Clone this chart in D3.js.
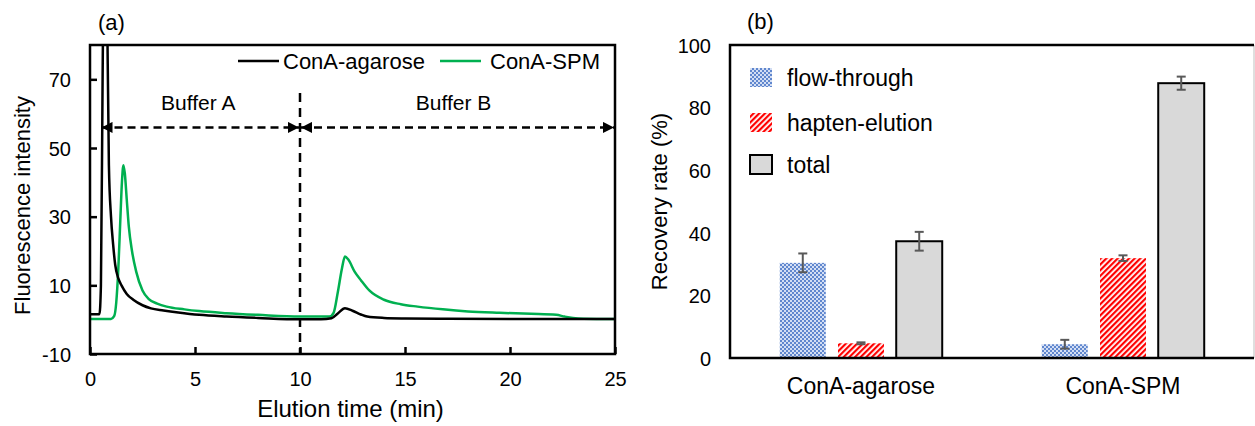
<!DOCTYPE html>
<html>
<head>
<meta charset="utf-8">
<script src="https://cdn.jsdelivr.net/npm/d3@7"></script>
<style>
  body { margin: 0; background: #fff; }
  svg text { font-family: "Liberation Sans", Arial, sans-serif; fill: #000; }
</style>
</head>
<body>
<div id="chart"></div>
<script>
// ==============================
// Data
// ==============================

// (a) elution profiles, time in min
var agaroseTime = [0, 0.45, 0.52, 0.6, 0.7, 0.8, 0.9, 1.0, 1.1, 1.2, 1.35, 1.5, 1.75, 2.06, 2.5, 2.9, 3.5, 4.2, 5.2, 6.5, 8, 10,
  11, 11.5, 11.8, 12.14, 12.5, 12.9, 13.2, 14, 15, 17, 20, 23, 25];
var agaroseValue = [1.6, 1.6, 10, 70, 130, 100, 45, 30, 22, 16, 12, 10, 7.5, 5.8, 4.2, 3.3, 2.7, 2.1, 1.4, 0.9, 0.5, 0.1,
  0.1, 0.4, 1.8, 3.3, 2.6, 1.5, 0.9, 0.5, 0.35, 0.25, 0.2, 0.2, 0.2];

var spmTime = [0, 1.0, 1.15, 1.25, 1.35, 1.45, 1.52, 1.59, 1.66, 1.75, 1.85, 2.0, 2.2, 2.5, 2.8, 3.2, 3.65, 4.5, 5.2, 6.5, 8, 10,
  11.4, 11.6, 11.8, 12.0, 12.14, 12.3, 12.6, 12.9, 13.3, 14, 14.8, 15.6, 16.8, 18, 19.5, 21, 22.2, 22.6, 23, 23.5, 25];
var spmValue = [0.2, 0.2, 1, 5, 15, 30, 40, 45, 42.5, 35, 27, 20, 14, 8.5, 6, 4.7, 3.8, 3, 2.5, 1.9, 1.4, 0.9,
  0.9, 2, 8, 15, 18.4, 17.5, 14, 11.5, 8.5, 5.8, 4.5, 3.8, 3, 2.4, 2, 1.7, 1.4, 0.9, 0.5, 0.3, 0.2];

var seriesNames = ["ConA-agarose", "ConA-SPM"];
var xTicksA = [0, 5, 10, 15, 20, 25];
var yTicksA = [-10, 10, 30, 50, 70];

// buffer annotation
var bufferLabels = ["Buffer A", "Buffer B"];
var bufferStart = [0.5, 10];
var bufferEnd = [10, 25];
var bufferLevel = 56;
var bufferSwitch = 10;

// (b) recovery rate (%)
var categories = ["ConA-agarose", "ConA-SPM"];
var fractions = ["flow-through", "hapten-elution", "total"];
var flowThrough = [30.4, 4.4];
var flowThroughErr = [3.0, 1.4];
var haptenElution = [4.7, 31.9];
var haptenElutionErr = [0.3, 0.9];
var total = [37.3, 87.8];
var totalErr = [3.0, 2.1];
var yTicksB = [0, 20, 40, 60, 80, 100];

// ==============================
// SVG
// ==============================
var svg = d3.select("#chart").append("svg")
  .attr("width", 1255)
  .attr("height", 426);

var defs = svg.append("defs");

// dotted blue fill for flow-through
var dots = defs.append("pattern")
  .attr("id", "dots")
  .attr("patternUnits", "userSpaceOnUse")
  .attr("width", 4).attr("height", 4);
dots.append("rect").attr("width", 4).attr("height", 4).attr("fill", "#d3def4");
dots.append("rect").attr("width", 2).attr("height", 2).attr("fill", "#4472C4").attr("opacity", 0.8);
dots.append("rect").attr("x", 2).attr("y", 2).attr("width", 2).attr("height", 2).attr("fill", "#4472C4").attr("opacity", 0.8);

// red diagonal stripes for hapten-elution
var stripes = defs.append("pattern")
  .attr("id", "stripes")
  .attr("patternUnits", "userSpaceOnUse")
  .attr("width", 4).attr("height", 4)
  .attr("patternTransform", "rotate(45)");
stripes.append("rect").attr("width", 4).attr("height", 4).attr("fill", "#fff");
stripes.append("rect").attr("width", 2.2).attr("height", 4).attr("fill", "#ff0000");

var fills = ["url(#dots)", "url(#stripes)", "#d9d9d9"];

// ==============================
// Panel (a)
// ==============================
var a = { left: 90, top: 45, right: 615, bottom: 354 };

var xA = d3.scaleLinear().domain([0, 25]).range([a.left, a.right]);
var yA = d3.scaleLinear().domain([-10, 80]).range([a.bottom, a.top]);

defs.append("clipPath").attr("id", "clipA")
  .append("rect")
  .attr("x", a.left).attr("y", a.top)
  .attr("width", a.right - a.left).attr("height", a.bottom - a.top);

var gA = svg.append("g");

// axes with inward ticks
gA.append("g")
  .attr("transform", `translate(0, ${a.bottom})`)
  .call(d3.axisBottom(xA).tickValues(xTicksA).tickFormat(d => String(d))
    .tickSizeInner(-7).tickSizeOuter(0).tickPadding(18))
  .call(g => g.select(".domain").remove())
  .call(g => g.selectAll("line").attr("stroke", "#000").attr("stroke-width", 2.5))
  .call(g => g.selectAll("text").style("font-size", "20px"));

gA.append("g")
  .attr("transform", `translate(${a.left}, 0)`)
  .call(d3.axisLeft(yA).tickValues(yTicksA).tickFormat(d => String(d))
    .tickSizeInner(-7).tickSizeOuter(0).tickPadding(19))
  .call(g => g.select(".domain").remove())
  .call(g => g.selectAll("line").attr("stroke", "#000").attr("stroke-width", 2.5))
  .call(g => g.selectAll("text").style("font-size", "20px").attr("dy", "0.36em"));

// curves
var lineA = d3.line()
  .x(d => xA(d[0]))
  .y(d => yA(d[1]))
  .curve(d3.curveMonotoneX);

var curveData = [
  { name: seriesNames[0], color: "#000", pts: d3.zip(agaroseTime, agaroseValue) },
  { name: seriesNames[1], color: "#00b050", pts: d3.zip(spmTime, spmValue) }
];

gA.append("g").attr("clip-path", "url(#clipA)")
  .selectAll("path")
  .data(curveData.slice().reverse())
  .enter().append("path")
  .attr("d", d => lineA(d.pts))
  .attr("fill", "none")
  .attr("stroke", d => d.color)
  .attr("stroke-width", 2.5);

// buffer switch dashed line
gA.append("line")
  .attr("x1", xA(bufferSwitch)).attr("x2", xA(bufferSwitch))
  .attr("y1", yA(66)).attr("y2", a.bottom)
  .attr("stroke", "#000").attr("stroke-width", 2.5)
  .attr("stroke-dasharray", "9,6");

// buffer arrows
defs.append("marker")
  .attr("id", "arrow")
  .attr("viewBox", "0 0 10 10")
  .attr("refX", 10).attr("refY", 5)
  .attr("markerWidth", 5).attr("markerHeight", 4.4)
  .attr("markerUnits", "strokeWidth")
  .attr("orient", "auto-start-reverse")
  .append("path")
  .attr("d", "M0,0 L10,5 L0,10 Z")
  .attr("fill", "#000");

bufferLabels.forEach(function(label, i) {
  gA.append("line")
    .attr("x1", xA(bufferStart[i]) + 1).attr("x2", xA(bufferEnd[i]) - 1)
    .attr("y1", yA(bufferLevel)).attr("y2", yA(bufferLevel))
    .attr("stroke", "#000").attr("stroke-width", 2.5)
    .attr("stroke-dasharray", "8,5")
    .attr("marker-start", "url(#arrow)")
    .attr("marker-end", "url(#arrow)");

  gA.append("text")
    .attr("x", (xA(bufferStart[i]) + xA(bufferEnd[i])) / 2 + (i === 0 ? -2 : -4))
    .attr("y", yA(bufferLevel) - 17)
    .attr("text-anchor", "middle")
    .style("font-size", "21px")
    .text(label);
});

// frame
gA.append("rect")
  .attr("x", a.left).attr("y", a.top)
  .attr("width", a.right - a.left).attr("height", a.bottom - a.top)
  .attr("fill", "none").attr("stroke", "#000").attr("stroke-width", 2.5);

// legend
var legA = [{ x: 238, tx: 283 }, { x: 440, tx: 490 }];
curveData.forEach(function(d, i) {
  gA.append("line")
    .attr("x1", legA[i].x).attr("x2", legA[i].x + 41)
    .attr("y1", 61).attr("y2", 61)
    .attr("stroke", d.color).attr("stroke-width", 2.5);
  gA.append("text")
    .attr("x", legA[i].tx).attr("y", 69)
    .style("font-size", "22px")
    .text(d.name);
});

// titles
gA.append("text")
  .attr("x", 98).attr("y", 30)
  .style("font-size", "22px")
  .text("(a)");

gA.append("text")
  .attr("x", (a.left + a.right) / 2 - 2).attr("y", 417)
  .attr("text-anchor", "middle")
  .style("font-size", "24px")
  .text("Elution time (min)");

gA.append("text")
  .attr("transform", `translate(30, ${(a.top + a.bottom) / 2 + 6}) rotate(-90)`)
  .attr("text-anchor", "middle")
  .style("font-size", "22px")
  .text("Fluorescence intensity");

// ==============================
// Panel (b)
// ==============================
var b = { left: 730, top: 45, right: 1254, bottom: 358 };

var x0 = d3.scaleBand().domain(categories).range([b.left, b.right]).paddingInner(0.38).paddingOuter(0.19);
var x1 = d3.scaleBand().domain(fractions).range([0, x0.bandwidth()]).paddingInner(0.21);
var yB = d3.scaleLinear().domain([0, 100]).range([b.bottom, b.top]);

var gB = svg.append("g");

gB.append("g")
  .attr("transform", `translate(${b.left}, 0)`)
  .call(d3.axisLeft(yB).tickValues(yTicksB).tickSize(0).tickPadding(19))
  .call(g => g.select(".domain").remove())
  .call(g => g.selectAll("text").style("font-size", "20px").attr("dy", "0.36em"));

var barData = [];
categories.forEach(function(c, i) {
  barData.push({ cat: c, key: fractions[0], v: flowThrough[i], e: flowThroughErr[i] });
  barData.push({ cat: c, key: fractions[1], v: haptenElution[i], e: haptenElutionErr[i] });
  barData.push({ cat: c, key: fractions[2], v: total[i], e: totalErr[i] });
});

gB.selectAll(".bar")
  .data(barData)
  .enter().append("rect")
  .attr("class", "bar")
  .attr("x", d => x0(d.cat) + x1(d.key))
  .attr("y", d => yB(d.v))
  .attr("width", x1.bandwidth())
  .attr("height", d => yB(0) - yB(d.v))
  .attr("fill", d => fills[fractions.indexOf(d.key)])
  .attr("stroke", d => d.key === "total" ? "#000" : "none")
  .attr("stroke-width", 2);

// error bars
var err = gB.selectAll(".err")
  .data(barData)
  .enter().append("g")
  .attr("class", "err")
  .attr("stroke", "#595959")
  .attr("stroke-width", 2);

err.append("line")
  .attr("x1", d => x0(d.cat) + x1(d.key) + x1.bandwidth() / 2)
  .attr("x2", d => x0(d.cat) + x1(d.key) + x1.bandwidth() / 2)
  .attr("y1", d => yB(d.v + d.e))
  .attr("y2", d => yB(d.v - d.e));

[1, -1].forEach(function(s) {
  err.append("line")
    .attr("x1", d => x0(d.cat) + x1(d.key) + x1.bandwidth() / 2 - 4.5)
    .attr("x2", d => x0(d.cat) + x1(d.key) + x1.bandwidth() / 2 + 4.5)
    .attr("y1", d => yB(d.v + s * d.e))
    .attr("y2", d => yB(d.v + s * d.e));
});

// frame: top/left/bottom black, right thin grey
gB.append("line").attr("x1", b.right).attr("x2", b.right).attr("y1", b.top).attr("y2", b.bottom)
  .attr("stroke", "#bfbfbf").attr("stroke-width", 1);
gB.append("path")
  .attr("d", `M${b.right},${b.top} H${b.left} V${b.bottom} H${b.right}`)
  .attr("fill", "none").attr("stroke", "#000").attr("stroke-width", 2.5);

// category labels
gB.selectAll(".cat")
  .data(categories)
  .enter().append("text")
  .attr("class", "cat")
  .attr("x", d => x0(d) + x0.bandwidth() / 2)
  .attr("y", 394)
  .attr("text-anchor", "middle")
  .style("font-size", "23px")
  .text(d => d);

// legend
var legY = [68, 113, 155];
fractions.forEach(function(f, i) {
  gB.append("rect")
    .attr("x", 750).attr("y", legY[i])
    .attr("width", 22).attr("height", 19)
    .attr("fill", fills[i])
    .attr("stroke", i === 2 ? "#000" : "none")
    .attr("stroke-width", 2);
  gB.append("text")
    .attr("x", 787).attr("y", legY[i] + 18)
    .style("font-size", "23px")
    .text(f);
});

// titles
gB.append("text")
  .attr("x", 747).attr("y", 29)
  .style("font-size", "22px")
  .text("(b)");

gB.append("text")
  .attr("transform", `translate(667, ${(b.top + b.bottom) / 2}) rotate(-90)`)
  .attr("text-anchor", "middle")
  .style("font-size", "22px")
  .text("Recovery rate (%)");
</script>
</body>
</html>
